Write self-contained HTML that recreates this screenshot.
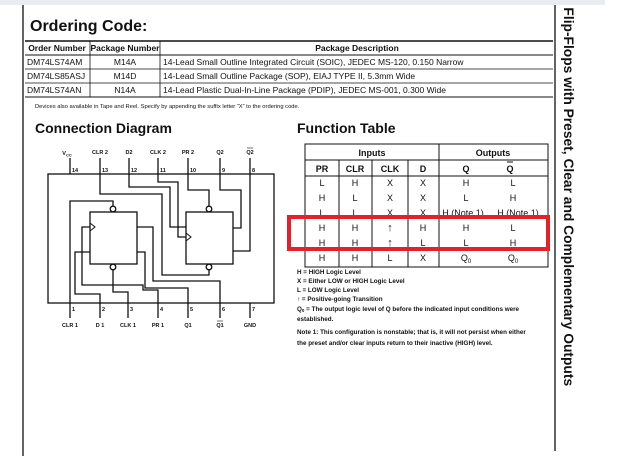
<!DOCTYPE html>
<html><head><meta charset="utf-8"><style>
html,body{margin:0;padding:0;background:#fff;width:628px;height:456px;overflow:hidden}
svg{display:block}
text{font-family:"Liberation Sans",Arial,sans-serif;fill:#111}
</style></head><body>
<svg width="628" height="456" viewBox="0 0 628 456">
<line x1="23" y1="5" x2="23" y2="456" stroke="#111" stroke-width="1.3"/>
<line x1="555" y1="5" x2="555" y2="451" stroke="#111" stroke-width="1.3"/>
<text transform="translate(564,-1) rotate(90)" font-size="13.8" font-weight="bold">) Flip-Flops with Preset, Clear and Complementary Outputs</text>
<rect x="0" y="0" width="605" height="5" fill="#e9edf2"/>

<text x="30" y="31" font-size="16" font-weight="bold">Ordering Code:</text>
<g stroke="#111" fill="none">
<line x1="25" y1="41" x2="553" y2="41" stroke-width="1.6"/>
<line x1="25" y1="55" x2="553" y2="55" stroke-width="1"/>
<line x1="25" y1="69" x2="553" y2="69" stroke-width="0.8"/>
<line x1="25" y1="83" x2="553" y2="83" stroke-width="0.8"/>
<line x1="25" y1="97" x2="553" y2="97" stroke-width="1"/>
<line x1="90" y1="41" x2="90" y2="97" stroke-width="0.8"/>
<line x1="160" y1="41" x2="160" y2="97" stroke-width="0.8"/>
</g>
<g font-size="8.5">
<text x="57" y="51" text-anchor="middle" font-weight="bold">Order Number</text>
<text x="125" y="51" text-anchor="middle" font-weight="bold">Package Number</text>
<text x="357" y="51" text-anchor="middle" font-weight="bold">Package Description</text>
<text x="27" y="65">DM74LS74AM</text><text x="125" y="65" text-anchor="middle">M14A</text>
<text x="163" y="65">14-Lead Small Outline Integrated Circuit (SOIC), JEDEC MS-120, 0.150 Narrow</text>
<text x="27" y="79">DM74LS85ASJ</text><text x="125" y="79" text-anchor="middle">M14D</text>
<text x="163" y="79">14-Lead Small Outline Package (SOP), EIAJ TYPE II, 5.3mm Wide</text>
<text x="27" y="93">DM74LS74AN</text><text x="125" y="93" text-anchor="middle">N14A</text>
<text x="163" y="93">14-Lead Plastic Dual-In-Line Package (PDIP), JEDEC MS-001, 0.300 Wide</text>
</g>
<text x="35" y="108" font-size="5.8">Devices also available in Tape and Reel. Specify by appending the suffix letter “X” to the ordering code.</text>

<text x="35" y="133" font-size="14" font-weight="bold">Connection Diagram</text>
<text x="297" y="133" font-size="14" font-weight="bold">Function Table</text>

<g stroke="#111" stroke-width="1.3" fill="none">
<rect x="48" y="174" width="226" height="129"/>
<line x1="70" y1="158" x2="70" y2="174"/>
<polyline points="100,158 100,194 162,194 162,275 209,275 209,270"/>
<polyline points="129,158 129,187 170,187 170,227 186,227"/>
<polyline points="158,158 158,182 178,182 178,237 186,237"/>
<polyline points="188,158 188,190 209,190 209,206"/>
<polyline points="220,158 220,190 241,190 241,228 233,228"/>
<polyline points="250,158 250,251 233,251"/>
<polyline points="70,318 70,201 113,201 113,206"/>
<polyline points="100,318 100,294 75,294 75,252 90,252"/>
<polyline points="128,318 128,292 113,292 113,270"/>
<polyline points="158,318 158,290 143,290 143,285 82,285 82,227 90,227"/>
<polyline points="188,318 188,288 145,288 145,252 137,252"/>
<polyline points="220,318 220,281 153,281 153,227 137,227"/>
<line x1="250" y1="303" x2="250" y2="318"/>
<rect x="90" y="212" width="47" height="52"/>
<rect x="186" y="212" width="47" height="52"/>
<circle cx="113" cy="209" r="2.8" fill="#fff"/>
<circle cx="113" cy="267" r="2.8" fill="#fff"/>
<circle cx="209" cy="209" r="2.8" fill="#fff"/>
<circle cx="209" cy="267" r="2.8" fill="#fff"/>
<polyline points="90,223 95,227 90,231" stroke-width="1"/>
<polyline points="186,233 191,237 186,241" stroke-width="1"/>
</g>
<g font-size="5.5" font-weight="bold">
<text x="67" y="155" text-anchor="middle">V<tspan font-size="4" dy="1.5">CC</tspan></text>
<text x="100" y="154" text-anchor="middle">CLR 2</text>
<text x="129" y="154" text-anchor="middle">D2</text>
<text x="158" y="154" text-anchor="middle">CLK 2</text>
<text x="188" y="154" text-anchor="middle">PR 2</text>
<text x="220" y="154" text-anchor="middle">Q2</text>
<text x="250" y="154" text-anchor="middle">Q2</text>
<text x="72" y="172">14</text><text x="102" y="172">13</text><text x="131" y="172">12</text>
<text x="160" y="172">11</text><text x="190" y="172">10</text><text x="222" y="172">9</text><text x="252" y="172">8</text>
<text x="72" y="311">1</text><text x="102" y="311">2</text><text x="130" y="311">3</text>
<text x="160" y="311">4</text><text x="190" y="311">5</text><text x="222" y="311">6</text><text x="252" y="311">7</text>
<text x="70" y="327" text-anchor="middle">CLR 1</text>
<text x="100" y="327" text-anchor="middle">D 1</text>
<text x="128" y="327" text-anchor="middle">CLK 1</text>
<text x="158" y="327" text-anchor="middle">PR 1</text>
<text x="188" y="327" text-anchor="middle">Q1</text>
<text x="220" y="327" text-anchor="middle">Q1</text>
<text x="250" y="327" text-anchor="middle">GND</text>
</g>
<g stroke="#111" stroke-width="0.6">
<line x1="247" y1="148" x2="253" y2="148"/><line x1="217" y1="321" x2="223" y2="321"/>
</g>

<g stroke="#111" fill="none" stroke-width="1">
<rect x="305" y="144" width="243" height="123"/>
<line x1="305" y1="160" x2="548" y2="160"/>
<line x1="305" y1="176" x2="548" y2="176"/>
<line x1="339" y1="160" x2="339" y2="267"/>
<line x1="372" y1="160" x2="372" y2="267"/>
<line x1="408" y1="160" x2="408" y2="267"/>
<line x1="439" y1="144" x2="439" y2="267"/>
<line x1="507" y1="162" x2="513" y2="162"/>
</g>
<g font-size="9" text-anchor="middle">
<text x="372" y="156" font-weight="bold">Inputs</text>
<text x="493" y="156" font-weight="bold">Outputs</text>
<text x="322" y="172" font-weight="bold">PR</text><text x="355" y="172" font-weight="bold">CLR</text>
<text x="390" y="172" font-weight="bold">CLK</text><text x="423" y="172" font-weight="bold">D</text>
<text x="466" y="172" font-weight="bold">Q</text><text x="510" y="172" font-weight="bold">Q</text>
<text x="322" y="186">L</text><text x="355" y="186">H</text><text x="390" y="186">X</text><text x="423" y="186">X</text><text x="466" y="186">H</text><text x="513" y="186">L</text>
<text x="322" y="201">H</text><text x="355" y="201">L</text><text x="390" y="201">X</text><text x="423" y="201">X</text><text x="466" y="201">L</text><text x="513" y="201">H</text>
<text x="322" y="216">L</text><text x="355" y="216">L</text><text x="390" y="216">X</text><text x="423" y="216">X</text><text x="463" y="216">H (Note 1)</text><text x="518" y="216">H (Note 1)</text>
<text x="322" y="231">H</text><text x="355" y="231">H</text><text x="390" y="231" font-size="11">↑</text><text x="423" y="231">H</text><text x="466" y="231">H</text><text x="513" y="231">L</text>
<text x="322" y="246">H</text><text x="355" y="246">H</text><text x="390" y="246" font-size="11">↑</text><text x="423" y="246">L</text><text x="466" y="246">L</text><text x="513" y="246">H</text>
<text x="322" y="261">H</text><text x="355" y="261">H</text><text x="390" y="261">L</text><text x="423" y="261">X</text><text x="466" y="261">Q<tspan font-size="6" dy="2">0</tspan></text><text x="513" y="261">Q<tspan font-size="6" dy="2">0</tspan></text>
</g>
<rect x="289" y="217" width="259" height="32" fill="none" stroke="#e5202a" stroke-width="4"/>
<g font-size="6.3" font-weight="bold" fill="#222">
<text x="297" y="274">H = HIGH Logic Level</text>
<text x="297" y="283">X = Either LOW or HIGH Logic Level</text>
<text x="297" y="292">L = LOW Logic Level</text>
<text x="297" y="301">↑ = Positive-going Transition</text>
<text x="297" y="311">Q<tspan font-size="4.5" dy="1">0</tspan><tspan dy="-1"> = The output logic level of Q before the indicated input conditions were</tspan></text>
<text x="297" y="321">established.</text>
<text x="297" y="334">Note 1: This configuration is nonstable; that is, it will not persist when either</text>
<text x="297" y="345">the preset and/or clear inputs return to their inactive (HIGH) level.</text>
</g>
</svg>
</body></html>
